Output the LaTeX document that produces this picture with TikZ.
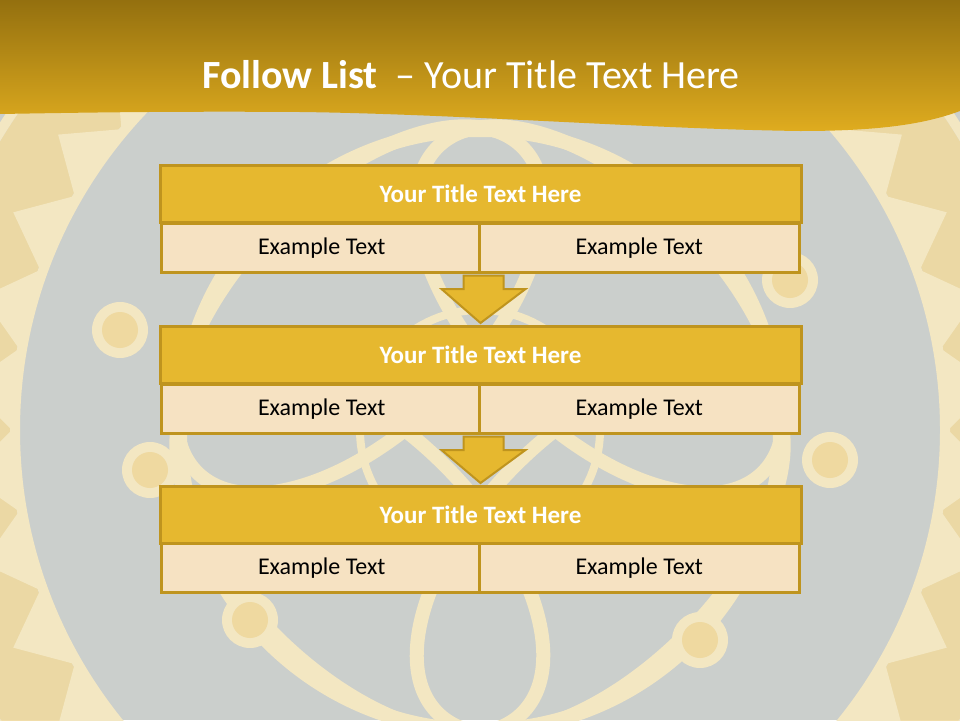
\documentclass[tikz,border=0pt]{standalone}
\usepackage{fontspec}
\setmainfont{Carlito}
\usetikzlibrary{calc}
\definecolor{bggrey}{HTML}{CBCFCC}
\definecolor{cream}{HTML}{F3E7C2}
\definecolor{creamy}{HTML}{EFD9A0}
\definecolor{goldtop}{HTML}{94700F}
\definecolor{goldbot}{HTML}{DFAC1F}
\definecolor{titlefill}{HTML}{E6B82F}
\definecolor{rowfill}{HTML}{F6E2C2}
\definecolor{edge}{HTML}{BF941E}
\tikzset{
  titlebox/.style={draw=edge, line width=3pt, fill=titlefill, minimum width=641pt, minimum height=57pt, inner sep=0pt, text=white, font=\fontsize{25}{28}\selectfont\bfseries},
  rowbox/.style={draw=edge, line width=3pt, fill=rowfill, minimum width=320.5pt, minimum height=49pt, inner sep=0pt, text=black, font=\fontsize{24}{28}\selectfont},
  downarrow/.style={draw=edge, line width=2pt, fill=titlefill, line join=miter},
  deco/.style={draw=cream, line width=14pt},
}
\begin{document}
\begin{tikzpicture}[x=1pt,y=-1pt]
\useasboundingbox (0,0) rectangle (960,720);
% background pattern (approximation)
\begin{scope}
\clip (0,0) rectangle (960,720);
\fill[bggrey] (0,0) rectangle (960,720);
\draw[creamy, line width=90pt, opacity=0.9] (480,430) circle[radius=515];
\draw[cream, line width=10pt] (480,430) circle[radius=465];
\draw[cream, line width=10pt] (480,430) circle[radius=565];
\foreach \a in {0,10,...,350}{
  \fill[cream] ($(480,430)+(\a:468)$) -- ($(480,430)+(\a+5:515)$) -- ($(480,430)+(\a+10:468)$) -- cycle;
}
\foreach \a in {45,135,225,315}{
  \draw[deco] (480,430) ++(\a:170) ellipse[x radius=230, y radius=120, rotate=\a];
}
\draw[deco] (480,430) circle[radius=300];
\draw[deco, line width=8pt] (480,430) circle[radius=120];
\foreach \p in {(120,330),(250,620),(700,640),(830,460),(150,470),(790,280)}{
  \fill[cream] \p circle[radius=28];
  \fill[creamy] \p circle[radius=18];
}
\end{scope}
% header band
\shade[top color=goldtop, bottom color=goldbot]
  (0,0) -- (960,0) -- (960,111) .. controls (925,124) and (880,131) .. (800,131)
  .. controls (650,129) and (460,114) .. (300,112)
  .. controls (160,111) and (60,113) .. (0,114) -- cycle;
\node[text=white, font=\fontsize{40}{44}\selectfont, anchor=base] (title) at (471,88)
  {\textbf{Follow List}\ \ – Your Title Text Here};
% blocks
\node[titlebox] (t1) at (480.5,193.5) {Your Title Text Here};
\node[rowbox, anchor=north west] (a1) at (160,222) {Example Text};
\node[rowbox, anchor=north east] (b1) at (801,222) {Example Text};
\node[titlebox] (t2) at (480.5,354.5) {Your Title Text Here};
\node[rowbox, anchor=north west] (a2) at (160,383) {Example Text};
\node[rowbox, anchor=north east] (b2) at (801,383) {Example Text};
\node[titlebox] (t3) at (480.5,514.5) {Your Title Text Here};
\node[rowbox, anchor=north west] (a3) at (160,542) {Example Text};
\node[rowbox, anchor=north east] (b3) at (801,542) {Example Text};
% arrows
\foreach \r/\t in {a1/t2, a2/t3}{
  \path (\r.south east) coordinate (s) (\t.north) coordinate (e);
  \draw[downarrow] ($(s)+(-20,1.5)$) -- ($(s)+(20,1.5)$) -- ($(s)+(20,15)$) -- ($(s)+(42,15)$)
    -- ($(e)+(0,-1.5)$) -- ($(s)+(-42,15)$) -- ($(s)+(-20,15)$) -- cycle;
}
\end{tikzpicture}
\end{document}
